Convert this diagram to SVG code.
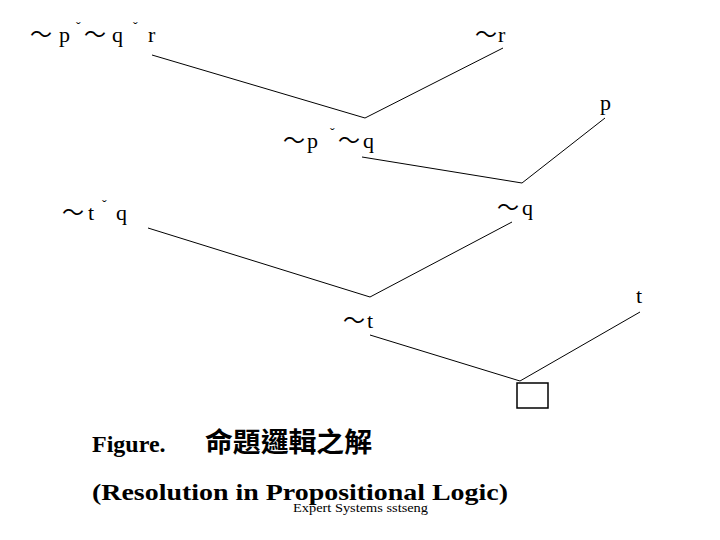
<svg xmlns="http://www.w3.org/2000/svg" width="720" height="540" viewBox="0 0 720 540">
<style>
.c{fill:none;stroke:#000;stroke-width:1}
</style>
<rect width="720" height="540" fill="#fff"/>
<g id="connectors">
<polyline class="c" points="152,55 365,118 503,48"/>
<polyline class="c" points="362,157 522,183 605,118"/>
<polyline class="c" points="148,228 370,297 512,222"/>
<polyline class="c" points="370,335 520,381 640,312"/>
</g>
<g font-family="'Liberation Serif', serif" font-size="22" fill="#000">
<g id="n1"><text><tspan font-family="'Noto Sans CJK TC', sans-serif" x="30" y="42">～</tspan><tspan x="59" y="42">p</tspan><tspan font-size="14" x="76" y="32">ˇ</tspan><tspan font-family="'Noto Sans CJK TC', sans-serif" x="84" y="42">～</tspan><tspan x="112" y="42">q</tspan><tspan font-size="14" x="133" y="32">ˇ</tspan><tspan x="148" y="42">r</tspan></text></g>
<g id="n2"><text><tspan font-family="'Noto Sans CJK TC', sans-serif" x="475" y="42">～</tspan><tspan x="498" y="42">r</tspan></text></g>
<g id="n3"><text x="600" y="110">p</text></g>
<g id="n4"><text><tspan font-family="'Noto Sans CJK TC', sans-serif" x="283" y="148">～</tspan><tspan x="307" y="148">p</tspan><tspan font-size="14" x="330" y="138">ˇ</tspan><tspan font-family="'Noto Sans CJK TC', sans-serif" x="338" y="148">～</tspan><tspan x="363" y="148">q</tspan></text></g>
<g id="n5"><text><tspan font-family="'Noto Sans CJK TC', sans-serif" x="62" y="220">～</tspan><tspan x="88" y="220">t</tspan><tspan font-size="14" x="102" y="210">ˇ</tspan><tspan x="116" y="220">q</tspan></text></g>
<g id="n6"><text><tspan font-family="'Noto Sans CJK TC', sans-serif" x="497" y="215">～</tspan><tspan x="522" y="215">q</tspan></text></g>
<g id="n7"><text x="636" y="303">t</text></g>
<g id="n8"><text><tspan font-family="'Noto Sans CJK TC', sans-serif" x="343" y="328">～</tspan><tspan x="367" y="328">t</tspan></text></g>
</g>
<g id="n9"><rect x="517" y="383" width="31" height="25" fill="#fff" stroke="#000" stroke-width="1.5"/></g>
<text x="92" y="452" font-family="'Liberation Serif', serif" font-weight="bold" font-size="24">Figure.</text>
<text x="205" y="452" font-family="'Noto Sans CJK TC', sans-serif" font-size="27" font-weight="bold" textLength="167" lengthAdjust="spacingAndGlyphs">命題邏輯之解</text>
<text x="92" y="500" font-family="'Liberation Serif', serif" font-weight="bold" font-size="24" textLength="416" lengthAdjust="spacingAndGlyphs">(Resolution in Propositional Logic)</text>
<text x="293" y="512" font-family="'Liberation Serif', serif" font-size="13" textLength="135" lengthAdjust="spacingAndGlyphs">Expert Systems sstseng</text>
</svg>
